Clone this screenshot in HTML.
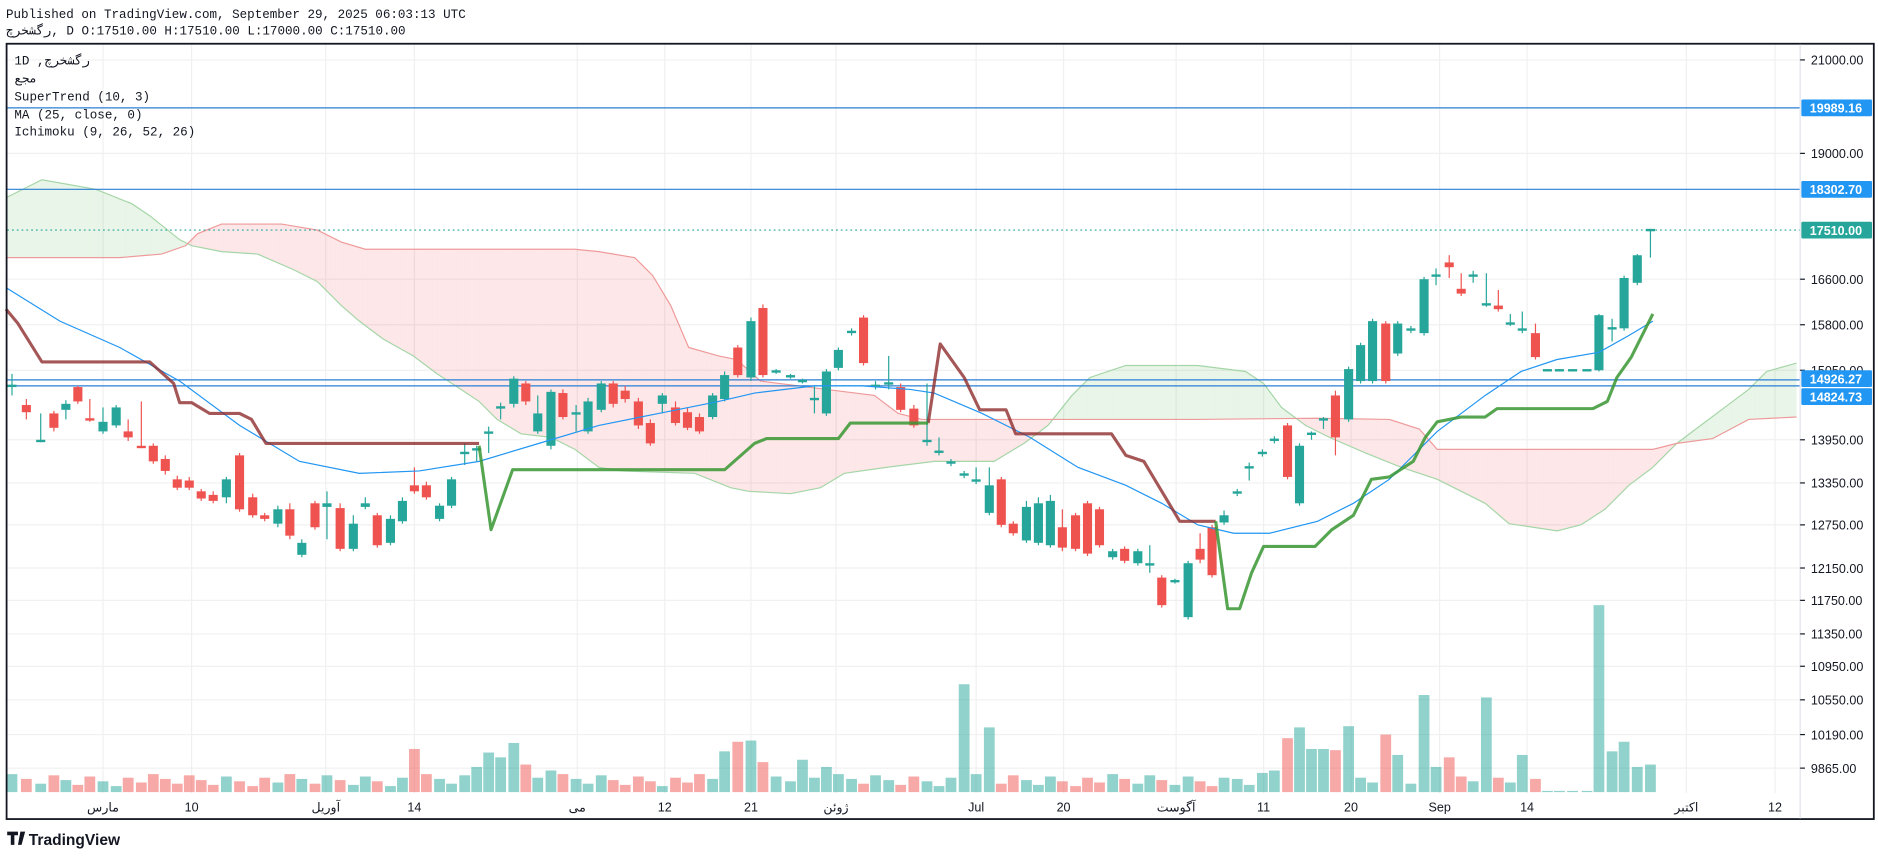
<!DOCTYPE html>
<html><head><meta charset="utf-8"><style>
html,body{margin:0;padding:0;background:#fff;width:1878px;height:858px;overflow:hidden}
svg{display:block}
</style></head><body>
<svg id="s" width="1878" height="858" viewBox="0 0 1568 716" preserveAspectRatio="none" xmlns="http://www.w3.org/2000/svg">
<rect width="1568" height="716" fill="#fff"/>
<g font-family="Liberation Mono, Noto Sans CJK SC, monospace" font-size="10.5" fill="#131722">
<text x="5" y="15">Published on TradingView.com, September 29, 2025 06:03:13 UTC</text>
<text x="5" y="29">رگشخرچ, D O:17510.00 H:17510.00 L:17000.00 C:17510.00</text>
</g>
<g id="grid" stroke="#f0f0f0" stroke-width="1"></g>
<g id="cloud"></g>
<g id="vol"></g>
<g id="lines"></g>
<g id="candles"></g>
<g id="ind"></g>
<rect x="5.5" y="36.5" width="1559" height="647" fill="none" stroke="#131722" stroke-width="1.5"/>
<line x1="1503" y1="37" x2="1503" y2="683" stroke="#e0e3eb"/>
<g id="axis" font-family="Liberation Sans, sans-serif" font-size="10.5" fill="#131722"></g>
<g font-family="Liberation Mono, Noto Sans CJK SC, monospace" font-size="10.5" fill="#131722">
<text x="12" y="54">1D ,رگشخرچ</text>
<text x="12" y="69">مجع</text>
<text x="12" y="84">SuperTrend (10, 3)</text>
<text x="12" y="99">MA (25, close, 0)</text>
<text x="12" y="113">Ichimoku (9, 26, 52, 26)</text>
</g>
<g font-family="Liberation Sans, sans-serif" fill="#131722">
<path d="M6 694h9v3h-3v8h-3v-8h-3z M17 694h4l-3 11h-3z" fill="#131722"/>
<text x="24" y="705" font-size="13" font-weight="bold">TradingView</text>
</g>
</svg>
<script>
const NS="http://www.w3.org/2000/svg";
function el(p,t,a,txt){const e=document.createElementNS(NS,t);for(const k in a)e.setAttribute(k,a[k]);if(txt!==undefined)e.textContent=txt;document.getElementById(p).appendChild(e);return e;}
// grid
const hy=[50,90,128,158,192,233,271,309,367,403,438,474,501,529,556,584,613,641];
[50,128,233,271,309,367,403,438,474,501,529,556,584,613,641].forEach(y=>el('grid','line',{x1:6,x2:1503,y1:y,y2:y}));
const dates=[[86,'مارس'],[160,'10'],[272,'آوریل'],[346,'14'],[482,'می'],[555,'12'],[627,'21'],[698,'ژوئن'],[815,'Jul'],[888,'20'],[982,'آگوست'],[1055,'11'],[1128,'20'],[1202,'Sep'],[1275,'14'],[1408,'اکتبر'],[1482,'12']];
dates.forEach(d=>{el('grid','line',{x1:d[0],x2:d[0],y1:37,y2:662});el('axis','text',{x:d[0],y:677,'text-anchor':'middle'},d[1]);});
// price labels
[[50,'21000.00'],[128,'19000.00'],[233,'16600.00'],[271,'15800.00'],[309,'15050.00'],[367,'13950.00'],[403,'13350.00'],[438,'12750.00'],[474,'12150.00'],[501,'11750.00'],[529,'11350.00'],[556,'10950.00'],[584,'10550.00'],[613,'10190.00'],[641,'9865.00']].forEach(p=>{
 el('axis','text',{x:1512,y:p[0]+4},p[1]);el('axis','line',{x1:1503,x2:1507,y1:p[0],y2:p[0],stroke:'#131722'});});
// horizontal lines
[90,158,317,322].forEach(y=>el('lines','line',{x1:6,x2:1503,y1:y,y2:y,stroke:'#2a7fd4','stroke-width':1}));
el('lines','line',{x1:6,x2:1503,y1:192,y2:192,stroke:'#26a69a','stroke-width':1,'stroke-dasharray':'1.5,2.5'});
[[90,'19989.16','#2196f3'],[158,'18302.70','#2196f3'],[192,'17510.00','#26a69a'],[316,'14926.27','#2196f3'],[331,'14824.73','#2196f3']].forEach(b=>{
 el('axis','rect',{x:1504,y:b[0]-7,width:59,height:14,fill:b[2],rx:1});
 el('axis','text',{x:1511,y:b[0]+4,fill:'#fff','font-weight':'bold'},b[1]);});
// cloud
const A=[[5,165],[35,150],[80,158],[110,170],[125,180],[150,200],[160,205],[185,210],[215,212],[245,225],[265,235],[285,255],[300,268],[320,283],[345,297],[365,312],[385,325],[400,335],[415,350],[435,362],[460,365],[480,375],[500,390],[520,393],[580,395],[610,407],[625,410],[660,412],[685,407],[705,395],[740,390],[780,385],[830,385],[855,370],[875,355],[895,330],[910,315],[940,305],[1000,305],[1040,310],[1055,320],[1070,340],[1090,355],[1110,365],[1140,378],[1170,390],[1200,400],[1240,420],[1260,437],[1280,440],[1300,443],[1320,438],[1340,425],[1360,405],[1380,390],[1400,370],[1420,355],[1440,340],[1460,325],[1475,310],[1500,303]];
const B=[[5,215],[100,215],[135,212],[155,205],[165,195],[185,187],[235,187],[265,192],[285,202],[305,208],[480,208],[500,210],[530,215],[545,230],[560,255],[575,290],[600,297],[615,300],[635,318],[690,325],[730,330],[750,345],[770,350],[1000,350],[1100,349],[1160,350],[1185,358],[1200,375],[1380,375],[1400,370],[1430,366],[1445,358],[1460,350],[1500,348]];
function interp(P,x){for(let i=0;i<P.length-1;i++){if(x>=P[i][0]&&x<=P[i+1][0]){const t=(x-P[i][0])/(P[i+1][0]-P[i][0]);return P[i][1]+t*(P[i+1][1]-P[i][1]);}}return P[P.length-1][1];}
for(let x=5;x<1500;x+=1){const a0=interp(A,x),b0=interp(B,x),a1=interp(A,x+1),b1=interp(B,x+1);
 const g=(a0+a1)<(b0+b1);el('cloud','polygon',{points:`${x},${a0} ${x+1},${a1} ${x+1},${b1} ${x},${b0}`,fill:g?'rgba(76,175,80,0.13)':'rgba(242,54,69,0.12)'});}
el('cloud','polyline',{points:A.map(p=>p.join(',')).join(' '),fill:'none',stroke:'#a5d6a7','stroke-width':1});
el('cloud','polyline',{points:B.map(p=>p.join(',')).join(' '),fill:'none',stroke:'#ef9a9a','stroke-width':1});
// candles [x,c,top,bot,wt,wb]
const C=[[10,'g',321,323,312,330],[22,'r',338,344,333,350],[34,'g',367,369,345,369],[45,'r',345,357,343,360],[55,'g',337,342,334,350],[65,'r',323,335,322,337],[75,'r',349,351,333,352],[86,'g',352,360,340,362],[97,'g',340,355,338,357],[107,'r',360,365,350,368],[118,'r',372,374,335,374],[128,'r',372,385,370,387],[138,'r',383,393,380,396],[148,'r',400,407,397,409],[158,'r',401,407,398,409],[168,'r',410,416,408,418],[178,'r',413,418,410,420],[189,'g',400,415,398,420],[200,'r',380,425,378,427],[211,'r',415,430,412,432],[221,'r',430,433,428,435],[232,'g',425,437,422,440],[242,'r',425,447,420,450],[252,'g',453,463,450,465],[263,'r',420,440,418,442],[273,'g',420,423,410,450],[284,'r',424,458,420,460],[295,'g',437,458,430,460],[305,'g',420,423,415,425],[315,'r',430,455,428,457],[326,'g',433,453,430,455],[336,'g',418,435,415,437],[346,'r',405,410,390,412],[356,'r',405,415,402,417],[367,'g',422,433,420,435],[377,'g',400,422,398,424],[388,'g',377,379,370,388],[398,'g',374,376,372,385],[408,'g',360,362,356,378],[418,'g',339,341,336,350],[429,'g',316,337,314,340],[439,'r',320,335,318,338],[449,'g',345,360,330,362],[460,'g',327,372,325,375],[470,'r',328,348,325,350],[481,'g',344,346,338,360],[491,'g',335,360,332,362],[502,'g',320,342,318,344],[512,'r',320,337,318,340],[522,'r',326,333,322,336],[533,'r',335,355,332,358],[543,'r',353,370,350,372],[553,'g',330,337,328,345],[564,'r',340,353,335,355],[574,'r',344,357,340,359],[584,'r',348,360,345,362],[595,'g',330,348,328,350],[605,'g',313,333,310,335],[616,'r',290,313,288,315],[627,'g',268,315,265,318],[637,'r',257,313,254,315],[648,'g',309,311,308,312],[660,'g',313,315,312,316],[670,'g',317,319,316,320],[680,'g',332,334,322,345],[690,'g',310,345,308,347],[700,'g',292,307,290,309],[711,'g',276,278,274,280],[721,'r',265,303,263,305],[731,'g',321,323,318,325],[742,'g',319,321,297,325],[752,'r',323,342,320,344],[763,'r',341,355,338,357],[774,'g',367,369,320,372],[784,'g',376,378,365,380],[794,'g',385,387,383,389],[805,'g',395,397,393,399],[815,'g',400,402,390,404],[826,'g',405,428,390,430],[836,'r',400,438,398,440],[846,'r',437,445,435,447],[857,'g',423,451,418,453],[867,'g',420,453,415,455],[877,'g',418,455,413,457],[887,'r',440,457,425,460],[898,'r',430,458,428,460],[908,'r',420,462,418,464],[918,'r',425,455,423,457],[929,'g',460,465,458,467],[939,'r',458,468,456,470],[950,'g',460,470,458,472],[960,'g',470,472,455,478],[970,'r',482,505,480,507],[981,'g',484,486,483,487],[992,'g',470,515,468,517],[1002,'r',458,467,445,470],[1012,'r',440,480,438,482],[1022,'g',430,436,426,438],[1033,'g',410,412,408,414],[1043,'g',389,391,386,401],[1054,'g',377,379,375,381],[1064,'g',366,368,364,370],[1075,'r',355,398,353,400],[1085,'g',372,420,370,422],[1095,'g',361,363,360,367],[1105,'g',349,351,348,358],[1115,'r',330,365,326,380],[1126,'g',308,350,306,352],[1136,'g',288,318,286,320],[1146,'g',268,318,266,320],[1157,'r',270,318,268,320],[1167,'g',270,295,268,297],[1178,'g',274,276,272,278],[1189,'g',233,278,231,280],[1199,'g',229,231,224,238],[1210,'r',219,223,213,232],[1220,'r',241,245,228,247],[1230,'g',229,231,226,236],[1241,'g',253,255,228,256],[1251,'r',255,258,242,260],[1261,'g',269,271,262,272],[1271,'g',274,276,260,278],[1282,'r',278,298,270,300],[1292,'g',308,310,308,310],[1302,'g',308,310,308,310],[1313,'g',308,310,308,310],[1325,'g',308,310,308,310],[1335,'g',263,309,262,310],[1346,'g',273,275,266,285],[1356,'g',232,274,230,276],[1367,'g',213,236,212,238],[1378,'g',191,193,191,215]];
const vo={346:625,398:640,408:628,418:632,429:620,439:638,460:643,605:627,616:619,627:618,637:636,670:634,690:640,805:571,826:607,1075:616,1085:607,1095:625,1105:625,1115:626,1126:606,1157:613,1167:630,1189:580,1199:640,1210:632,1241:582,1271:630,1335:505,1346:627,1356:619,1367:640,1378:638,1292:660,1302:660,1313:660,1325:660,1033:650,1043:655,965:636,1054:645,1064:643};
C.forEach((c,i)=>{const col=c[1]=='g'?'#26a69a':'#ef5350';const x=c[0];
 let vt=vo[x]!==undefined?vo[x]:(646+((i*37)%11));
 el('vol','rect',{x:x-4.5,y:vt,width:9,height:661-vt,fill:c[1]=='g'?'rgba(38,166,154,0.5)':'rgba(239,83,80,0.5)'});
 el('candles','line',{x1:x,x2:x,y1:c[4],y2:c[5],stroke:col,'stroke-width':1});
 const h=Math.max(c[3]-c[2],1.2);el('candles','rect',{x:x-3.8,y:c[2],width:7.6,height:h,fill:col});});
// MA
const MA=[[5,240],[50,268],[100,290],[150,318],[200,355],[250,385],[300,395],[350,393],[400,385],[450,370],[500,355],[550,345],[600,335],[630,328],[680,322],[720,322],[760,325],[780,328],[820,345],[860,365],[900,390],[940,405],[970,420],[1000,438],[1030,445],[1060,445],[1100,435],[1130,420],[1160,400],[1200,360],[1240,330],[1270,310],[1300,300],[1335,294],[1360,280],[1380,268]];
el('ind','polyline',{points:MA.map(p=>p.join(',')).join(' '),fill:'none',stroke:'#2196f3','stroke-width':1});
const R1=[[5,258],[15,270],[35,302],[125,302],[145,320],[150,336],[160,336],[175,345],[200,345],[210,350],[222,370],[400,370]];
const G1=[[400,372],[410,442],[428,392],[605,392],[630,370],[640,366],[700,366],[710,353],[775,353]];
const R2=[[775,353],[785,287],[805,315],[818,342],[840,342],[848,362],[928,362],[940,380],[955,385],[985,435],[1015,435]];
const G2=[[1015,435],[1025,508],[1035,508],[1045,478],[1055,456],[1098,456],[1112,442],[1130,430],[1145,400],[1160,398],[1180,385],[1190,365],[1200,352],[1220,348],[1240,348],[1250,341],[1330,341],[1342,335],[1350,315],[1362,298],[1370,282],[1380,262]];
[[R1,'rgba(140,40,40,0.78)'],[R2,'rgba(140,40,40,0.78)'],[G1,'rgba(56,150,50,0.85)'],[G2,'rgba(56,150,50,0.85)']].forEach(s=>el('ind','polyline',{points:s[0].map(p=>p.join(',')).join(' '),fill:'none',stroke:s[1],'stroke-width':2.6,'stroke-linejoin':'round'}));
</script>
</body></html>
